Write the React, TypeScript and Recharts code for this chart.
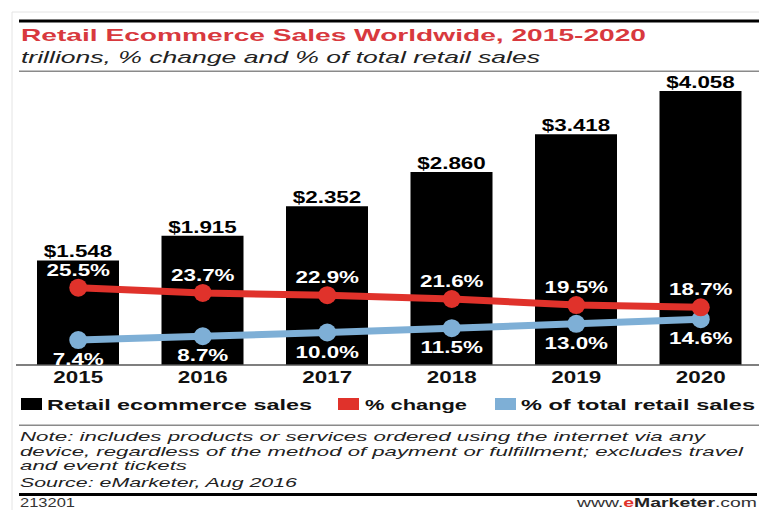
import React from 'react';
import { ComposedChart, Bar, Line, XAxis, YAxis, LabelList } from 'recharts';

const years = ['2015', '2016', '2017', '2018', '2019', '2020'];
const salesTrillions = [1.548, 1.915, 2.352, 2.86, 3.418, 4.058];
const pctChange = [25.5, 23.7, 22.9, 21.6, 19.5, 18.7];
const pctOfTotalRetail = [7.4, 8.7, 10.0, 11.5, 13.0, 14.6];

const titleText = 'Retail Ecommerce Sales Worldwide, 2015-2020';
const subtitleText = 'trillions, % change and % of total retail sales';
const legendLabels = ['Retail ecommerce sales', '% change', '% of total retail sales'];
const noteLines = [
  'Note: includes products or services ordered using the internet via any',
  'device, regardless of the method of payment or fulfillment; excludes travel',
  'and event tickets',
  'Source: eMarketer, Aug 2016',
];
const chartId = '213201';

const data = years.map((year, i) => ({
  year,
  sales: salesTrillions[i],
  change: pctChange[i],
  share: pctOfTotalRetail[i],
}));

const FONT = '"Liberation Sans", Arial, sans-serif';
const SX = 1.4;
const RED = '#e0322b';
const BLUE = '#7eafd6';
const TITLE_RED = '#d8393e';

const StretchText = ({ x, y, children, fill = '#000', size = 16, weight = 700 }: any) => (
  <text
    transform={`translate(${x},${y}) scale(${SX},1)`}
    textAnchor="middle"
    fontFamily={FONT}
    fontSize={size}
    fontWeight={weight}
    fill={fill}
  >
    {children}
  </text>
);

const BarValueLabel = (props: any) => {
  const { x, y, width, value } = props;
  return (
    <StretchText x={Number(x) + Number(width) / 2} y={Number(y) - 3}>
      {'$' + Number(value).toFixed(3)}
    </StretchText>
  );
};

const ChangeLabel = (props: any) => {
  const { x, y, value } = props;
  return (
    <StretchText x={Number(x)} y={Number(y) - 12} fill="#fff">
      {Number(value).toFixed(1) + '%'}
    </StretchText>
  );
};

const ShareLabel = (props: any) => {
  const { x, y, value } = props;
  return (
    <StretchText x={Number(x)} y={Number(y) + 25} fill="#fff">
      {Number(value).toFixed(1) + '%'}
    </StretchText>
  );
};

const YearTick = (props: any) => {
  const { x, y, payload } = props;
  return (
    <StretchText x={Number(x)} y={Number(y) + 18} fill="#111">
      {payload.value}
    </StretchText>
  );
};

const NOTE_SIZE = 13.5;

const Overlay = () => (
  <svg
    width={759}
    height={510}
    style={{ position: 'absolute', left: 0, top: 0, pointerEvents: 'none' }}
  >
    {/* faint frame */}
    <line x1={12} y1={12} x2={759} y2={12} stroke="#e4e4e4" strokeWidth={1} />
    <line x1={12} y1={12} x2={12} y2={510} stroke="#e4e4e4" strokeWidth={1} />
    {/* top rule */}
    <rect x={19} y={19.5} width={740} height={3} fill="#000" />
    <text x={21} y={41} fontFamily={FONT} fontSize={17} fontWeight={700} fill={TITLE_RED}
      textLength={625} lengthAdjust="spacingAndGlyphs">{titleText}</text>
    <text x={21} y={63} fontFamily={FONT} fontSize={17} fontStyle="italic" fill="#222"
      textLength={519} lengthAdjust="spacingAndGlyphs">{subtitleText}</text>
    <rect x={19} y={70.5} width={740} height={1.5} fill="#8a8a8a" />

    {/* legend */}
    <rect x={21} y={398} width={21} height={12} fill="#000" />
    <text x={47} y={410} fontFamily={FONT} fontSize={15} fontWeight={700} fill="#111"
      textLength={265} lengthAdjust="spacingAndGlyphs">{legendLabels[0]}</text>
    <rect x={338} y={398} width={21} height={12} fill={RED} />
    <text x={365} y={410} fontFamily={FONT} fontSize={15} fontWeight={700} fill="#111"
      textLength={102} lengthAdjust="spacingAndGlyphs">{legendLabels[1]}</text>
    <rect x={495} y={398} width={21} height={12} fill={BLUE} />
    <text x={521} y={410} fontFamily={FONT} fontSize={15} fontWeight={700} fill="#111"
      textLength={234} lengthAdjust="spacingAndGlyphs">{legendLabels[2]}</text>

    <rect x={19} y={424.5} width={740} height={1.5} fill="#8a8a8a" />

    {/* notes */}
    <text x={20} y={441} fontFamily={FONT} fontSize={NOTE_SIZE} fontStyle="italic" fill="#222"
      textLength={685} lengthAdjust="spacingAndGlyphs">{noteLines[0]}</text>
    <text x={20} y={455.5} fontFamily={FONT} fontSize={NOTE_SIZE} fontStyle="italic" fill="#222"
      textLength={723} lengthAdjust="spacingAndGlyphs">{noteLines[1]}</text>
    <text x={20} y={470} fontFamily={FONT} fontSize={NOTE_SIZE} fontStyle="italic" fill="#222"
      textLength={167} lengthAdjust="spacingAndGlyphs">{noteLines[2]}</text>
    <text x={20} y={486.5} fontFamily={FONT} fontSize={NOTE_SIZE} fontStyle="italic" fill="#222"
      textLength={277} lengthAdjust="spacingAndGlyphs">{noteLines[3]}</text>

    <rect x={19} y={493} width={738} height={3} fill="#000" />

    <text x={20} y={507} fontFamily={FONT} fontSize={12} fill="#333"
      textLength={55} lengthAdjust="spacingAndGlyphs">{chartId}</text>
    <text x={577} y={507} fontFamily={FONT} fontSize={12} fill="#333"
      textLength={180} lengthAdjust="spacingAndGlyphs">
      <tspan>www.</tspan>
      <tspan fill={RED} fontWeight={700}>e</tspan>
      <tspan fill="#222" fontWeight={700}>Marketer</tspan>
      <tspan>.com</tspan>
    </text>
  </svg>
);

export default function App() {
  return (
    <div
      style={{
        position: 'absolute',
        left: 0,
        top: 0,
        width: 759,
        height: 510,
        overflow: 'hidden',
        background: '#fff',
      }}
    >
      <div style={{ position: 'absolute', left: 0, top: 0 }}>
        <ComposedChart
          width={780}
          height={395}
          data={data}
          margin={{ top: 91, right: 17, bottom: 0, left: 16 }}
        >
          <XAxis
            dataKey="year"
            height={30}
            axisLine={{ stroke: '#555', strokeWidth: 1.5 }}
            tickLine={false}
            tickSize={0}
            tickMargin={0}
            tick={<YearTick />}
            interval={0}
          />
          <YAxis yAxisId="usd" hide domain={[0, 4.058]} />
          <YAxis yAxisId="pct" hide domain={[-1.25, 93.6]} />
          <Bar yAxisId="usd" dataKey="sales" fill="#000" barSize={82} isAnimationActive={false}>
            <LabelList dataKey="sales" content={<BarValueLabel />} />
          </Bar>
          <Line
            yAxisId="pct"
            type="linear"
            dataKey="share"
            stroke={BLUE}
            strokeWidth={7}
            dot={{ r: 9, fill: BLUE, stroke: 'none', strokeWidth: 0 }}
            activeDot={false}
            isAnimationActive={false}
          >
            <LabelList dataKey="share" content={<ShareLabel />} />
          </Line>
          <Line
            yAxisId="pct"
            type="linear"
            dataKey="change"
            stroke={RED}
            strokeWidth={7}
            dot={{ r: 9, fill: RED, stroke: 'none', strokeWidth: 0 }}
            activeDot={false}
            isAnimationActive={false}
          >
            <LabelList dataKey="change" content={<ChangeLabel />} />
          </Line>
        </ComposedChart>
      </div>
      <Overlay />
    </div>
  );
}
